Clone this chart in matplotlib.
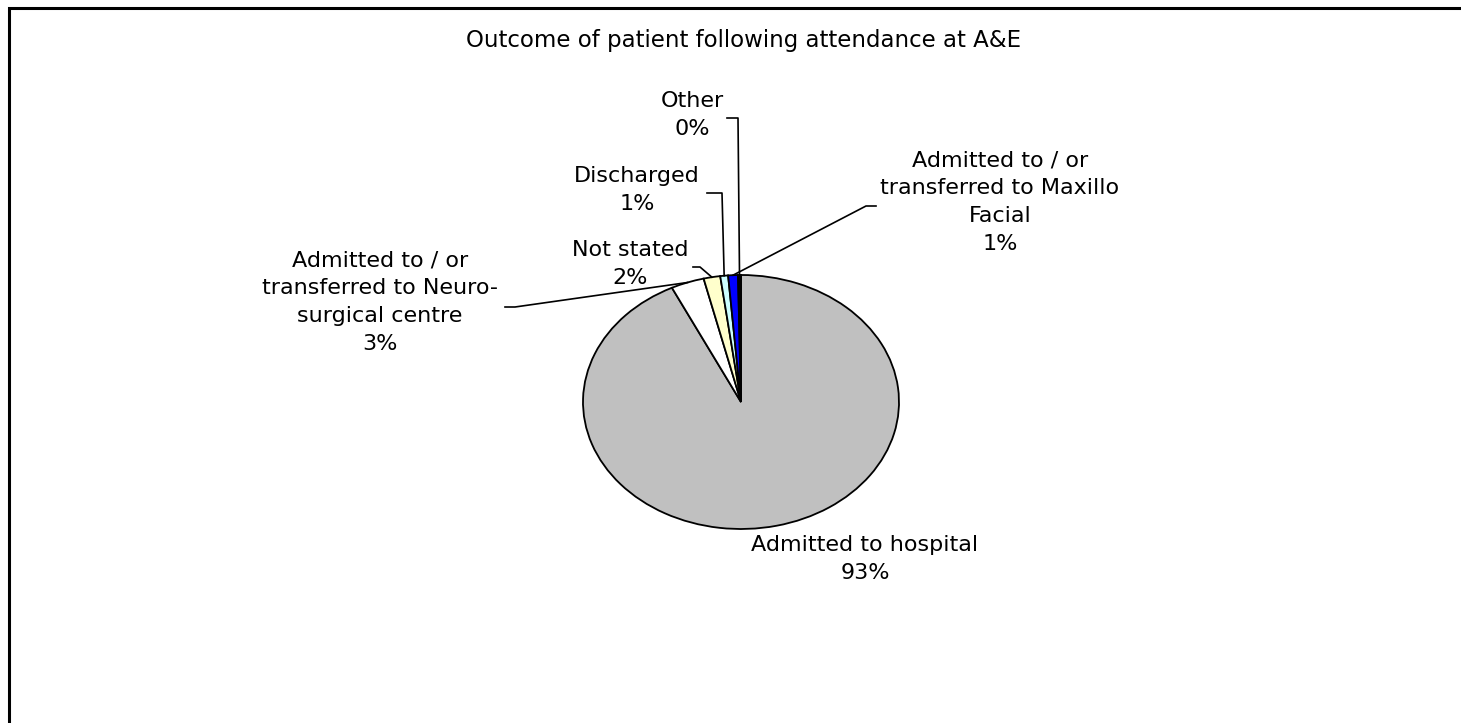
import matplotlib
matplotlib.use("Agg")
import matplotlib.pyplot as plt
from matplotlib.patches import Rectangle
import numpy as np

# data
categories = ["Admitted to hospital",
              "Admitted to / or\ntransferred to Neuro-\nsurgical centre",
              "Not stated",
              "Discharged",
              "Admitted to / or\ntransferred to Maxillo\nFacial",
              "Other"]
shares = [92.8, 3.4, 1.7, 0.8, 1.0, 0.3]
pct_labels = ["93%", "3%", "2%", "1%", "1%", "0%"]
colors = ["#C0C0C0", "#FFFFFF", "#FFFFCC", "#CCFFFF", "#0000FF", "#000000"]

W, H = 1461, 723
CX, CY, RX, RY = 741, 402, 158, 127


def px(x, y):
    # pixel position -> data units of the (elliptic) pie axes
    return (x - CX) / RX, (CY - y) / RY


# label centre and leader elbow/end in pixels (layout only)
label_pos = [(865, 559), (380, 302), (630, 264), (637, 190), (1000, 202), (692, 115)]
elbows = [None,
          [(515, 307), (505, 307)],
          [(700, 267), (693, 267)],
          [(722, 193), (707, 193)],
          [(866, 206), (876, 206)],
          [(738, 118), (727, 118)]]

plt.rcParams['font.family'] = ['DejaVu Sans']

fig = plt.figure(figsize=(W / 100, H / 100), dpi=100)
ax = fig.add_axes([0, 0, 1, 1])

wedges, _ = ax.pie(shares, colors=colors, startangle=90, counterclock=False,
                   wedgeprops=dict(edgecolor="black", linewidth=1.3))
ax.set_aspect('auto')
ax.set_xlim(-CX / RX, (W - CX) / RX)
ax.set_ylim(-(H - CY) / RY, CY / RY)
ax.axis('off')

for i, w in enumerate(wedges):
    tx, ty = px(*label_pos[i])
    ax.text(tx, ty, categories[i] + "\n" + pct_labels[i], ha='center', va='center',
            fontsize=16, linespacing=1.5)
    if elbows[i] is None:
        continue
    mid = np.deg2rad((w.theta1 + w.theta2) / 2)
    pts = [(np.cos(mid), np.sin(mid))] + [px(*p) for p in elbows[i]]
    xs, ys = zip(*pts)
    ax.plot(xs, ys, color="black", linewidth=1.2, clip_on=False)

tx, ty = px(744, 40)
ax.text(tx, ty, "Outcome of patient following attendance at A&E", ha='center', va='center',
        fontsize=16.5)

# chart area border (cut off at right and bottom)
fig.patches.append(Rectangle((9 / W, -0.1), 1.2, (H - 8) / H + 0.1, transform=fig.transFigure,
                             fill=False, edgecolor="black", linewidth=2.2))

fig.savefig("out.png", dpi=100, facecolor="white")
